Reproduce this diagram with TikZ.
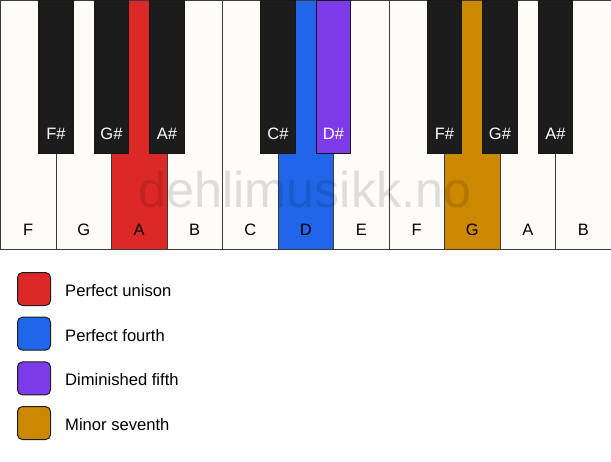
\documentclass[tikz,border=0pt]{standalone}
\usepackage{fontspec}
\setmainfont{Liberation Sans}
\usetikzlibrary{calc}
\definecolor{keywhite}{RGB}{253,252,249}
\definecolor{keyblack}{RGB}{28,28,28}
\definecolor{keyborder}{RGB}{60,60,60}
\definecolor{ivred}{RGB}{221,40,40}
\definecolor{ivblue}{RGB}{33,102,232}
\definecolor{ivpurple}{RGB}{124,58,232}
\definecolor{ivgold}{RGB}{204,136,0}
\tikzset{
  whitekey/.style={draw=keyborder, line width=1pt, rectangle, anchor=north west,
    minimum width=55.5pt, minimum height=249pt, inner sep=0pt, outer sep=0pt},
  blackkey/.style={draw=keyblack!80!black, line width=1pt, rectangle, anchor=north,
    minimum width=34.4pt, minimum height=153pt, inner sep=0pt, outer sep=0pt},
  wlab/.style={font=\fontsize{16.5}{16.5}\selectfont, text=black, inner sep=0pt},
  blab/.style={font=\fontsize{16.5}{16.5}\selectfont, text=white, inner sep=0pt},
  legbox/.style={draw=keyblack, line width=1pt, rounded corners=5pt, rectangle,
    minimum width=33pt, minimum height=33pt, inner sep=0pt, anchor=north west},
  legtext/.style={font=\fontsize{16.6}{16.6}\selectfont, anchor=west, inner sep=0pt},
  watermark/.style={font=\fontsize{50.3}{50.3}\selectfont, text=black, text opacity=0.12, inner sep=0pt}
}
\begin{document}
\begin{tikzpicture}[x=1pt,y=-1pt]
\useasboundingbox (0,0) rectangle (611,461);
\fill[white] (0,0) rectangle (611,461);
% white keys
\foreach \i/\n/\c in {0/F/keywhite,1/G/keywhite,2/A/ivred,3/B/keywhite,4/C/keywhite,5/D/ivblue,6/E/keywhite,7/F/keywhite,8/G/ivgold,9/A/keywhite,10/B/keywhite}{
  \node[whitekey, fill=\c] (w\i) at ({0.5+\i*55.5},0.5) {};
  \node[wlab] (wl\i) at ($(w\i.south)+(0,-19.5)$) {\n};
}
% watermark
\node[watermark] (wm) at (305,190) {dehlimusikk.no};
% black keys
\foreach \i/\n/\c in {1/F\#/keyblack,2/G\#/keyblack,3/A\#/keyblack,5/C\#/keyblack,6/D\#/ivpurple,8/F\#/keyblack,9/G\#/keyblack,10/A\#/keyblack}{
  \node[blackkey, fill=\c] (b\i) at ({0.5+\i*55.5},0.5) {};
  \node[blab] (bl\i) at ($(b\i.south)+(0,-20)$) {\n};
}
% legend
\foreach \k/\c/\t in {0/ivred/Perfect unison,1/ivblue/Perfect fourth,2/ivpurple/Diminished fifth,3/ivgold/Minor seventh}{
  \node[legbox, fill=\c] (lg\k) at (17,{272+\k*44.7}) {};
  \node[legtext] (lt\k) at ($(lg\k.east)+(14,1.5)$) {\t};
}
\end{tikzpicture}
\end{document}
